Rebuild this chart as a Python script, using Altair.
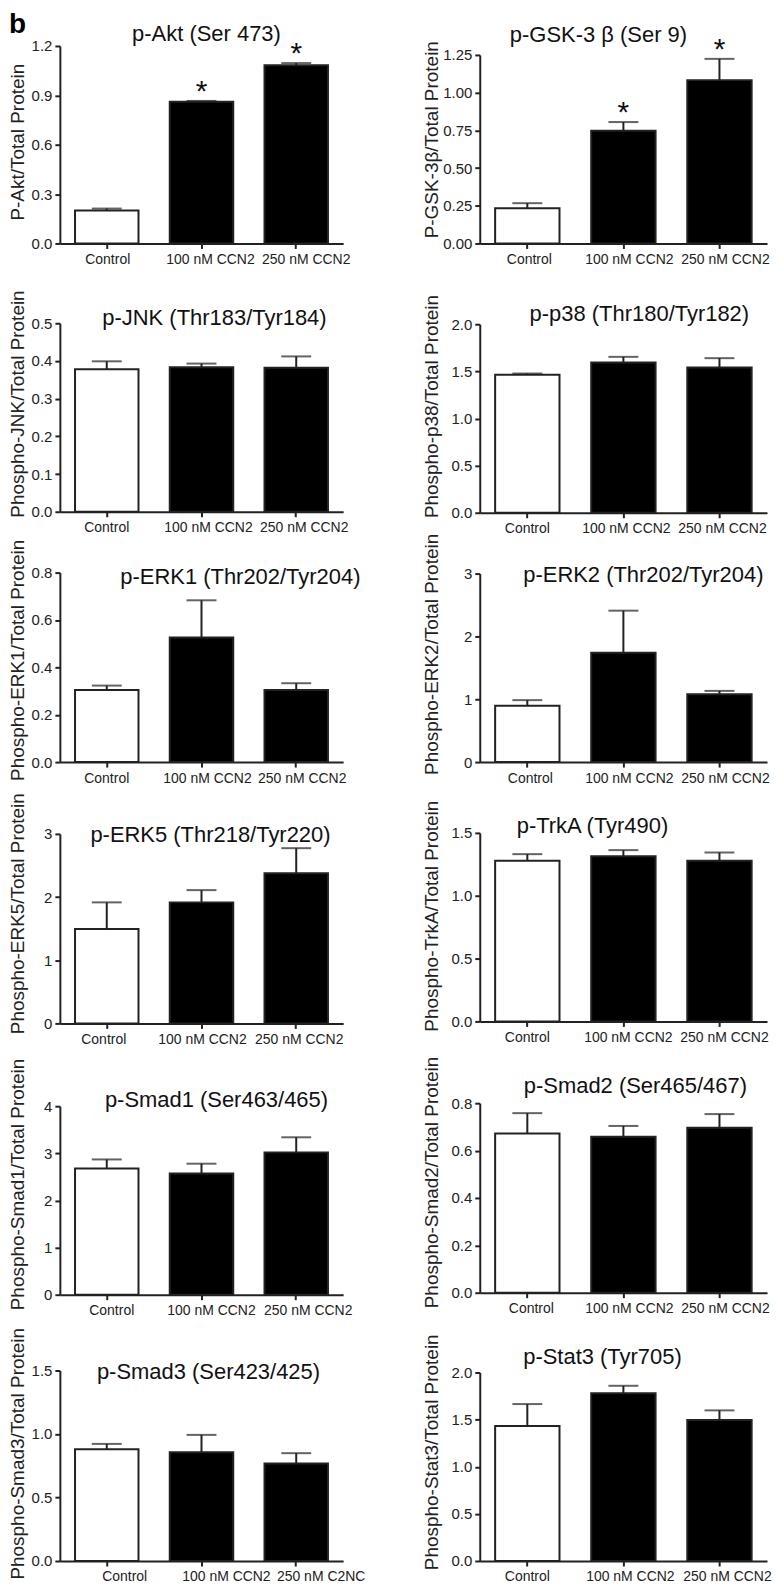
import altair as alt
import pandas as pd

# ---------------- data ----------------
groups = ["Control", "100 nM CCN2", "250 nM CCN2"]
groups_smad3 = ["Control", "100 nM CCN2", "250 nM C2NC"]

panel_titles = [
    "p-Akt (Ser 473)", "p-GSK-3 β (Ser 9)",
    "p-JNK (Thr183/Tyr184)", "p-p38 (Thr180/Tyr182)",
    "p-ERK1 (Thr202/Tyr204)", "p-ERK2 (Thr202/Tyr204)",
    "p-ERK5 (Thr218/Tyr220)", "p-TrkA (Tyr490)",
    "p-Smad1 (Ser463/465)", "p-Smad2 (Ser465/467)",
    "p-Smad3 (Ser423/425)", "p-Stat3 (Tyr705)",
]
y_titles = [
    "P-Akt/Total Protein", "P-GSK-3β/Total Protein",
    "Phospho-JNK/Total Protein", "Phospho-p38/Total Protein",
    "Phospho-ERK1/Total Protein", "Phospho-ERK2/Total Protein",
    "Phospho-ERK5/Total Protein", "Phospho-TrkA/Total Protein",
    "Phospho-Smad1/Total Protein", "Phospho-Smad2/Total Protein",
    "Phospho-Smad3/Total Protein", "Phospho-Stat3/Total Protein",
]
y_max = [1.2, 1.25, 0.5, 2.0, 0.8, 3, 3, 1.5, 4, 0.8, 1.5, 2.0]
y_ticks = [
    [0.0, 0.3, 0.6, 0.9, 1.2],
    [0.0, 0.25, 0.5, 0.75, 1.0, 1.25],
    [0.0, 0.1, 0.2, 0.3, 0.4, 0.5],
    [0.0, 0.5, 1.0, 1.5, 2.0],
    [0.0, 0.2, 0.4, 0.6, 0.8],
    [0, 1, 2, 3],
    [0, 1, 2, 3],
    [0.0, 0.5, 1.0, 1.5],
    [0, 1, 2, 3, 4],
    [0.0, 0.2, 0.4, 0.6, 0.8],
    [0.0, 0.5, 1.0, 1.5],
    [0.0, 0.5, 1.0, 1.5, 2.0],
]
y_formats = [".1f", ".2f", ".1f", ".1f", ".1f", "d", "d", ".1f", "d", ".1f", ".1f", ".1f"]

means = [
    [0.200, 0.861, 1.083],
    [0.234, 0.747, 1.083],
    [0.378, 0.383, 0.382],
    [1.464, 1.594, 1.541],
    [0.304, 0.526, 0.304],
    [0.896, 1.740, 1.080],
    [1.495, 1.916, 2.379],
    [1.278, 1.315, 1.278],
    [2.680, 2.570, 3.020],
    [0.672, 0.658, 0.696],
    [0.880, 0.857, 0.768],
    [1.433, 1.781, 1.496],
]
upper = [
    [0.212, 0.866, 1.096],
    [0.267, 0.805, 1.224],
    [0.399, 0.393, 0.412],
    [1.477, 1.654, 1.640],
    [0.323, 0.683, 0.333],
    [0.986, 2.410, 1.133],
    [1.916, 2.110, 2.774],
    [1.331, 1.363, 1.344],
    [2.870, 2.780, 3.340],
    [0.758, 0.704, 0.754],
    [0.922, 0.993, 0.849],
    [1.665, 1.859, 1.598],
]
stars = [[False, True, True], [False, True, True]] + [[False, False, False]] * 10
x_labels = [groups] * 10 + [groups_smad3, groups]

# ---------------- layout (pixels inside each panel cell) ----------------
CELL_H = 208
col_widths = [284, 288]
zero_px = [201, 201, 206, 207, 193, 193, 191, 189, 199, 197, 202, 202]
top_px = [3, 12, 17, 18, 3, 4, 1, 0, 10, 7, 11, 13]
title_x = [147, 119, 155, 160, 181, 164, 151, 113, 157, 156, 149, 123]
title_y = [-1.7, -1, 18.3, 15, 14.3, 12.7, 8.7, 0.3, 11.3, -3.7, 20, 4]
ytitle_y = [99, 96.5, 97.5, 100, 90.5, 84.5, 80.5, 83, 88, 86, 94, 92.5]
label_offsets = [
    [1, 9, 10], [2, 6, 6],
    [0, 7, 8], [0, 3, 3],
    [0, 6, 6], [3, 6, 6],
    [-3, 1, 3], [0, 5, 5],
    [5, 10, 12], [4, 6, 6],
    [18, 25, 25], [0, 7, 8],
]

FONT = "Liberation Sans"
INK = "#222222"


def panel(i):
    labs = x_labels[i]
    left = (i % 2 == 0)
    w = col_widths[i % 2]
    df = pd.DataFrame({
        "group": labs,
        "val": means[i],
        "hi": upper[i],
        "kind": ["ctrl", "trt", "trt"],
    })
    star_df = df[[s for s in stars[i]]]

    lo = label_offsets[i]
    x_axis = alt.Axis(
        title=None, labelAngle=0, labelOverlap=False,
        offset=zero_px[i] - CELL_H, tickSize=5, labelPadding=4,
        labelFontSize=14,
        labelOffset={
            "condition": [
                {"test": "datum.value === '%s'" % labs[0], "value": lo[0]},
                {"test": "datum.value === '%s'" % labs[1], "value": lo[1]},
            ],
            "value": lo[2],
        },
    )
    x_enc = alt.X("group:N", sort=labs,
                  scale=alt.Scale(paddingInner=0.33, paddingOuter=0.16),
                  axis=x_axis)
    y_axis = alt.Axis(
        title=y_titles[i], values=y_ticks[i], format=y_formats[i],
        titleX=-36 if left else -42, titleY=ytitle_y[i],
        titleAngle=270, titleAlign="center", titleBaseline="alphabetic",
        tickSize=5, labelPadding=3, labelFontSize=15,
    )
    y_scale = alt.Scale(domain=[0, y_max[i]], range=[zero_px[i], top_px[i]], nice=False)

    bars = alt.Chart(df).mark_bar(stroke=INK, strokeWidth=2).encode(
        x=x_enc,
        y=alt.Y("val:Q", scale=y_scale, axis=y_axis),
        fill=alt.Fill("kind:N", scale=alt.Scale(domain=["ctrl", "trt"], range=["#ffffff", "#000000"]), legend=None),
    )
    stems = alt.Chart(df).mark_rule(color=INK, strokeWidth=2).encode(
        x=x_enc,
        y=alt.Y("val:Q", scale=y_scale, axis=y_axis),
        y2="hi:Q",
    )
    caps = alt.Chart(df).mark_tick(color=INK, size=30, thickness=2).encode(
        x=x_enc,
        y=alt.Y("hi:Q", scale=y_scale, axis=y_axis),
    )
    layers = [bars, stems, caps]
    if len(star_df):
        star = alt.Chart(star_df).mark_text(
            text="*", font=FONT, fontSize=30, color="#111111",
            baseline="alphabetic", align="center", dy=0,
        ).encode(
            x=x_enc,
            y=alt.Y("hi:Q", scale=y_scale, axis=y_axis),
        )
        layers.append(star)
    ttl = alt.Chart(pd.DataFrame({"t": [panel_titles[i]]})).mark_text(
        font=FONT, fontSize=22, color="#111111", align="center", baseline="alphabetic",
    ).encode(text="t:N", x=alt.value(title_x[i]), y=alt.value(title_y[i]))
    layers.append(ttl)
    if i == 0:
        tag = alt.Chart(pd.DataFrame({"t": ["b"]})).mark_text(
            font=FONT, fontSize=28, fontWeight="bold", color="#000000",
            align="left", baseline="alphabetic",
        ).encode(text="t:N", x=alt.value(-51), y=alt.value(-10.5))
        layers.append(tag)
    return alt.layer(*layers).properties(width=w, height=CELL_H)


chart = alt.concat(
    *[panel(i) for i in range(12)],
    columns=2,
    spacing={"row": 56, "column": 133},
    bounds="flush",
    align="all",
).properties(
    padding=0,
).configure_view(
    strokeWidth=0,
).configure_axis(
    grid=False,
    domainColor=INK, domainWidth=2,
    tickColor=INK, tickWidth=2,
    labelFont=FONT, labelFontSize=14.5, labelColor=INK,
    titleFont=FONT, titleFontSize=19, titleFontWeight="normal", titleColor=INK,
)

chart.save("out.html", embed_options={"renderer": "svg", "actions": False})
